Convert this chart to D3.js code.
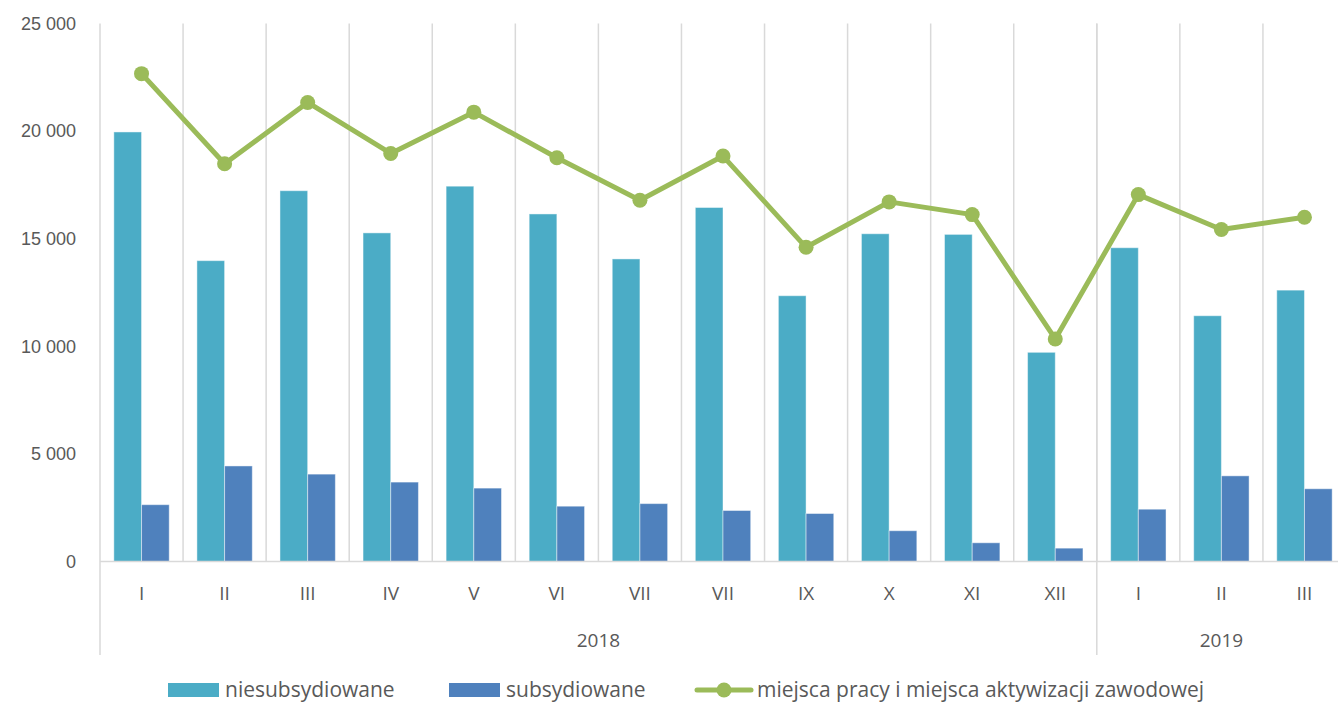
<!DOCTYPE html>
<html>
<head>
<meta charset="utf-8">
<script src="https://cdn.jsdelivr.net/npm/d3@7"></script>
<style>
    body { margin: 0; background: #fff; }
    svg { display: block; font-family: "Open Sans", sans-serif; }
    .lbl { fill: #595959; font-size: 19px; }
    .tick-lbl { fill: #595959; font-size: 18px; }
    .leg-lbl { fill: #595959; font-size: 21px; }
</style>
</head>
<body>
<div id="chart-area"><svg></svg></div>
<script>
const months = ["I", "II", "III", "IV", "V", "VI", "VII", "VII", "IX", "X", "XI", "XII", "I", "II", "III"];
const years = ["2018", "2019"];
const yearLength = [12, 3];
const seriesNames = ["niesubsydiowane", "subsydiowane", "miejsca pracy i miejsca aktywizacji zawodowej"];
const niesubsydiowane = [19960, 13980, 17230, 15270, 17440, 16150, 14060, 16450, 12350, 15230, 15200, 9720, 14580, 11420, 12610];
const subsydiowane = [2640, 4440, 4060, 3690, 3410, 2570, 2690, 2370, 2230, 1430, 870, 620, 2430, 3980, 3380];
const miejsca = [22670, 18480, 21330, 18960, 20880, 18760, 16790, 18840, 14600, 16710, 16120, 10340, 17050, 15430, 16000];
const yTicks = [0, 5000, 10000, 15000, 20000, 25000];

const colors = { niesub: "#4bacc6", sub: "#4f81bd", line: "#9bbb59", grid: "#d9d9d9" };
const chartSize = { width: 1338, height: 702 };
const plot = { left: 100, right: 1346, top: 23.5, bottom: 561.5 };

const fmt = d3.formatLocale({ decimal: ",", thousands: " ", grouping: [3], currency: ["", ""] }).format(",d");

const draw = () => {
    const svg = d3.select("#chart-area svg")
        .attr("width", chartSize.width)
        .attr("height", chartSize.height);

    const idx = d3.range(months.length);
    const x = d3.scaleBand().domain(idx).range([plot.left, plot.right]).padding(0);
    const xInner = d3.scaleBand().domain([0, 1]).range([0, x.bandwidth()])
        .paddingInner(0).paddingOuter(0.5);
    const y = d3.scaleLinear().domain([0, 25000]).range([plot.bottom, plot.top]);

    // month separators
    svg.append("g").selectAll("line")
        .data(idx.slice(1))
        .join("line")
        .attr("x1", i => x(i)).attr("x2", i => x(i))
        .attr("y1", y(25000)).attr("y2", y(0))
        .attr("stroke", colors.grid).attr("stroke-width", 1.5);

    // year separators (reach down through the label rows)
    const yearStart = d3.cumsum([0, ...yearLength]).slice(0, years.length);
    svg.append("g").selectAll("line")
        .data(yearStart)
        .join("line")
        .attr("x1", i => x(i)).attr("x2", i => x(i))
        .attr("y1", y(25000)).attr("y2", 655)
        .attr("stroke", colors.grid).attr("stroke-width", 1.5);

    // y axis labels
    const yAxis = d3.axisLeft(y).tickValues(yTicks).tickFormat(fmt).tickSize(0).tickPadding(0);
    const ga = svg.append("g").attr("transform", "translate(76,0)").call(yAxis);
    ga.select(".domain").remove();
    ga.selectAll("text").attr("class", "tick-lbl").attr("font-family", null).attr("font-size", null).attr("fill", null);

    // bars
    const bars = svg.append("g");
    [niesubsydiowane, subsydiowane].forEach((vals, s) => {
        bars.append("g").selectAll("rect")
            .data(vals)
            .join("rect")
            .attr("x", (d, i) => x(i) + xInner(s))
            .attr("width", xInner.bandwidth())
            .attr("y", d => y(d))
            .attr("height", d => y(0) - y(d))
            .attr("fill", s === 0 ? colors.niesub : colors.sub)
            .attr("stroke", "#ffffff").attr("stroke-opacity", 0.45).attr("stroke-width", 1);
    });

    // baseline
    svg.append("line")
        .attr("x1", plot.left).attr("x2", plot.right)
        .attr("y1", y(0)).attr("y2", y(0))
        .attr("stroke", colors.grid).attr("stroke-width", 1.5);

    // line series
    const cx = i => x(i) + x.bandwidth() / 2;
    const line = d3.line().x((d, i) => cx(i)).y(d => y(d));
    svg.append("path")
        .attr("d", line(miejsca))
        .attr("fill", "none")
        .attr("stroke", colors.line)
        .attr("stroke-width", 5)
        .attr("stroke-linejoin", "round");
    svg.append("g").selectAll("circle")
        .data(miejsca)
        .join("circle")
        .attr("cx", (d, i) => cx(i))
        .attr("cy", d => y(d))
        .attr("r", 7.5)
        .attr("fill", colors.line);

    // category labels
    svg.append("g").selectAll("text")
        .data(months)
        .join("text")
        .attr("class", "lbl")
        .attr("x", (d, i) => cx(i))
        .attr("y", 593)
        .attr("dy", "0.35em")
        .attr("text-anchor", "middle")
        .text(d => d);

    svg.append("g").selectAll("text")
        .data(years)
        .join("text")
        .attr("class", "lbl")
        .attr("x", (d, i) => (x(yearStart[i]) + x(yearStart[i] + yearLength[i] - 1) + x.bandwidth()) / 2)
        .attr("y", 640)
        .attr("dy", "0.35em")
        .attr("text-anchor", "middle")
        .text(d => d);

    // legend
    const legendX = [168, 449, 697];
    const lg = svg.append("g").selectAll("g")
        .data(seriesNames)
        .join("g")
        .attr("transform", (d, i) => `translate(${legendX[i]},690)`);
    lg.filter((d, i) => i < 2).append("rect")
        .attr("x", 0).attr("y", -7).attr("width", 51).attr("height", 14)
        .attr("fill", (d, i) => i === 0 ? colors.niesub : colors.sub);
    lg.filter((d, i) => i === 2).append("line")
        .attr("x1", 0).attr("x2", 54).attr("y1", 0).attr("y2", 0)
        .attr("stroke", colors.line).attr("stroke-width", 5).attr("stroke-linecap", "round");
    lg.filter((d, i) => i === 2).append("circle")
        .attr("cx", 27).attr("cy", 0).attr("r", 7.5).attr("fill", colors.line);
    lg.append("text")
        .attr("class", "leg-lbl")
        .attr("x", (d, i) => i === 2 ? 60 : 57)
        .attr("dy", "0.35em")
        .text(d => d);
};

window.onload = draw;
</script>
</body>
</html>
